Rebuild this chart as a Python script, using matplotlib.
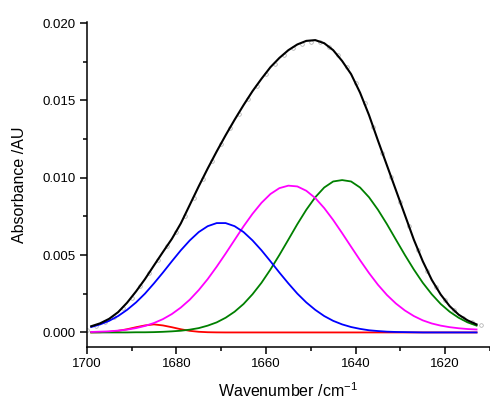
import numpy as np
import matplotlib
matplotlib.use('Agg')
import matplotlib.pyplot as plt
from matplotlib.ticker import MultipleLocator, FormatStrFormatter


# wavenumber grid of the fitted curves (cm-1)
wavenumber = [1699, 1697, 1695, 1693, 1691, 1689, 1687, 1685, 1683, 1681, 1679, 1677, 1675, 1673, 1671,
              1669, 1667, 1665, 1663, 1661, 1659, 1657, 1655, 1653, 1651, 1649, 1647, 1645, 1643, 1641,
              1639, 1637, 1635, 1633, 1631, 1629, 1627, 1625, 1623, 1621, 1619, 1617, 1615, 1613]

# cumulative fit (black)
fit_total = [0.00040, 0.00059, 0.00088, 0.00131, 0.00192, 0.00265, 0.00345, 0.00433, 0.00520, 0.00605,
             0.00705, 0.00825, 0.00945, 0.01060, 0.01170,
             0.01275, 0.01375, 0.01470, 0.01560, 0.01640, 0.01715, 0.01775, 0.01825, 0.01862, 0.01885,
             0.01890, 0.01870, 0.01825, 0.01755, 0.01670,
             0.01550, 0.01405, 0.01240, 0.01080, 0.00920, 0.00760, 0.00600, 0.00460, 0.00340, 0.00245,
             0.00170, 0.00115, 0.00078, 0.00052]

# component bands
band_red = [0.000004, 0.000014, 0.000042, 0.000103, 0.000206, 0.000337, 0.000453, 0.000520, 0.000453, 0.000337,
            0.000206, 0.000103, 0.000042, 0.000014, 0.000004,
            0, 0, 0, 0, 0, 0, 0, 0, 0, 0, 0, 0, 0, 0, 0,
            0, 0, 0, 0, 0, 0, 0, 0, 0, 0, 0, 0, 0, 0]

band_blue = [0.00035, 0.00052, 0.00075, 0.00106, 0.00146, 0.00194, 0.00251, 0.00317, 0.00387, 0.00460,
             0.00531, 0.00595, 0.00649, 0.00687, 0.00707,
             0.00707, 0.00687, 0.00649, 0.00595, 0.00531, 0.00460, 0.00387, 0.00317, 0.00251, 0.00194,
             0.00146, 0.00106, 0.00075, 0.00052, 0.00035,
             0.00023, 0.00014, 0.00009, 0.00005, 0.00003, 0.00002, 0.00001, 0, 0, 0,
             0, 0, 0, 0]

band_magenta = [0.00003, 0.00005, 0.00007, 0.00012, 0.00018, 0.00028, 0.00042, 0.00061, 0.00086, 0.00119,
                0.00161, 0.00212, 0.00274, 0.00345, 0.00425,
                0.00510, 0.00598, 0.00686, 0.00767, 0.00838, 0.00895, 0.00933, 0.00949, 0.00944, 0.00916,
                0.00869, 0.00804, 0.00727, 0.00642, 0.00554,
                0.00467, 0.00384, 0.00308, 0.00242, 0.00187, 0.00142, 0.00106, 0.00078, 0.00058, 0.00044,
                0.00034, 0.00027, 0.00022, 0.00019]

band_green = [0, 0, 0, 0, 0, 0.00001, 0.00001, 0.00002, 0.00004, 0.00007,
              0.00011, 0.00018, 0.00028, 0.00044, 0.00065,
              0.00095, 0.00134, 0.00184, 0.00247, 0.00321, 0.00407, 0.00501, 0.00600, 0.00700, 0.00793,
              0.00874, 0.00937, 0.00976, 0.00985, 0.00976,
              0.00937, 0.00874, 0.00793, 0.00700, 0.00600, 0.00501, 0.00407, 0.00321, 0.00247, 0.00184,
              0.00134, 0.00095, 0.00065, 0.00044]

# measured spectrum (grey circles)
data_wavenumber = [1700, 1698, 1696, 1694, 1692, 1690, 1688, 1686, 1684, 1682, 1680, 1678, 1676, 1674, 1672,
                   1670, 1668, 1666, 1664, 1662, 1660, 1658, 1656, 1654, 1652, 1650, 1648, 1646, 1644, 1642,
                   1640, 1638, 1636, 1634, 1632, 1630, 1628, 1626, 1624, 1622, 1620, 1618, 1616, 1614, 1612]
data_absorbance = [0.00015, 0.00042, 0.00068, 0.00103, 0.00155, 0.00222, 0.00298, 0.00382, 0.00470, 0.00558,
                   0.00648, 0.00752, 0.00870, 0.00990, 0.01108,
                   0.01218, 0.01320, 0.01415, 0.01510, 0.01594, 0.01670, 0.01738, 0.01795, 0.01840, 0.01868,
                   0.01880, 0.01876, 0.01848, 0.01795, 0.01718,
                   0.01615, 0.01485, 0.01325, 0.01162, 0.01003, 0.00845, 0.00685, 0.00532, 0.00400, 0.00292,
                   0.00208, 0.00143, 0.00096, 0.00065, 0.00045]


def main():
    plt.rcParams['font.family'] = ['Liberation Sans', 'DejaVu Sans']
    plt.rcParams['mathtext.fontset'] = 'custom'
    plt.rcParams['mathtext.rm'] = 'Liberation Sans'

    fig = plt.figure(figsize=(4.9, 3.99), dpi=100)
    ax = fig.add_axes([0.177, 0.130, 0.823, 0.816])

    # measured points under the fit
    ax.plot(data_wavenumber, data_absorbance, 'o', mfc='none', mec='#a8a8a8', ms=2.6, mew=0.5, zorder=1)

    ax.plot(wavenumber, band_red, color='#ff0000', lw=1.3, zorder=2)
    ax.plot(wavenumber, band_green, color='#008000', lw=1.3, zorder=3)
    ax.plot(wavenumber, band_magenta, color='#ff00ff', lw=1.3, zorder=4)
    ax.plot(wavenumber, band_blue, color='#0000ff', lw=1.3, zorder=5)
    ax.plot(wavenumber, fit_total, color='black', lw=1.5, zorder=6)

    ax.set_xlim(1700, 1610)
    ax.set_ylim(-0.00095, 0.0201)

    ax.spines['top'].set_visible(False)
    ax.spines['right'].set_visible(False)
    ax.spines['left'].set_linewidth(1.1)
    ax.spines['bottom'].set_linewidth(1.1)

    ax.xaxis.set_major_locator(MultipleLocator(20))
    ax.xaxis.set_minor_locator(MultipleLocator(10))
    ax.yaxis.set_major_locator(MultipleLocator(0.005))
    ax.yaxis.set_minor_locator(MultipleLocator(0.0025))
    ax.yaxis.set_major_formatter(FormatStrFormatter('%.3f'))

    ax.tick_params(which='major', direction='out', length=5, width=1.1, labelsize=9.5, pad=3)
    ax.tick_params(which='minor', direction='out', length=3, width=1.1)

    ax.set_xlabel(r'Wavenumber /cm$^{\mathregular{-1}}$', fontsize=11.5, labelpad=8)
    ax.set_ylabel('Absorbance /AU', fontsize=11.5, labelpad=11)

    fig.savefig('out.png', dpi=100)


if __name__ == "__main__":
    main()
